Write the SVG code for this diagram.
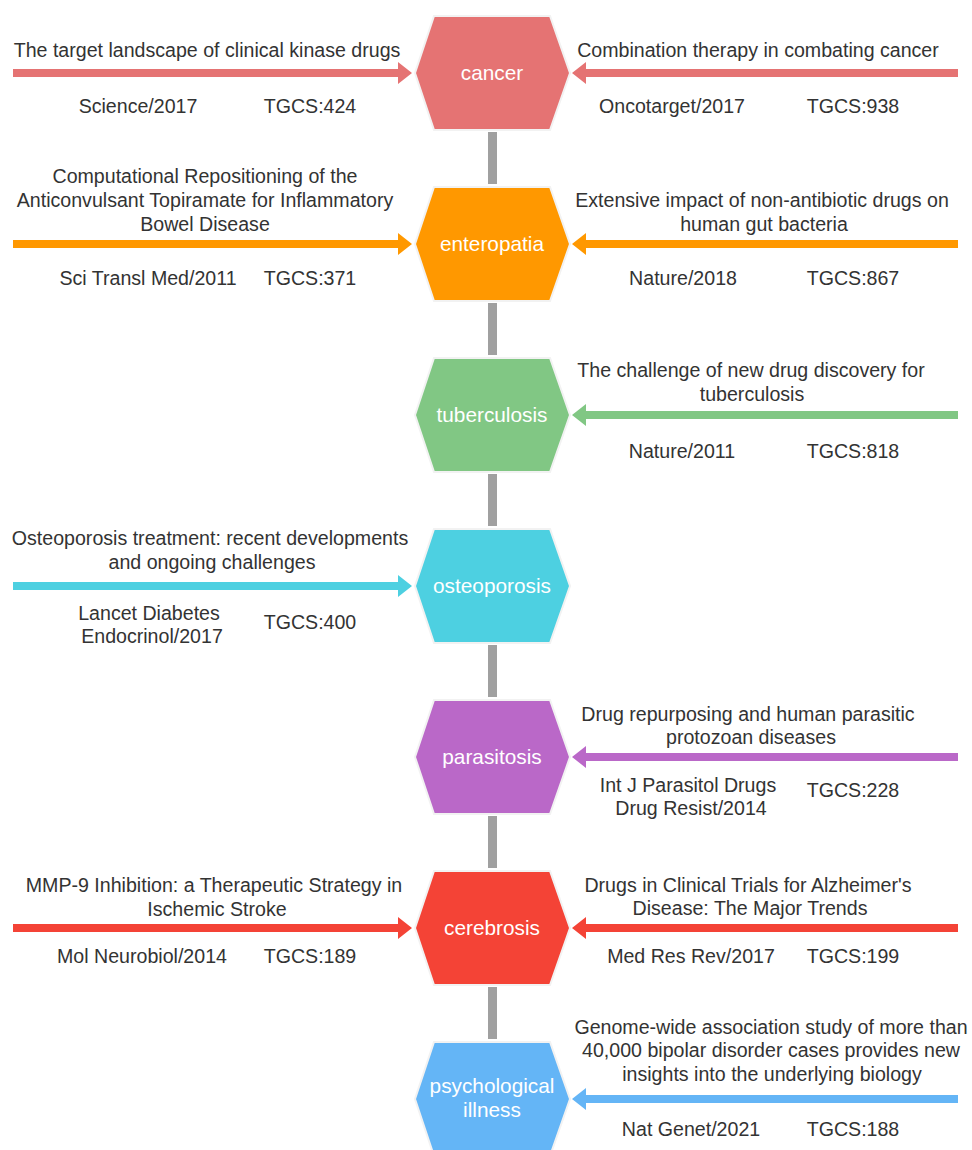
<svg xmlns="http://www.w3.org/2000/svg" width="972" height="1150" viewBox="0 0 972 1150">
<style>
.t{font-family:"Liberation Sans",Arial,sans-serif;font-size:19.6px;fill:#333;text-anchor:middle}
.h{font-family:"Liberation Sans",Arial,sans-serif;font-size:20.8px;fill:#fff;text-anchor:middle}
.hex{stroke:#f2f2f2;stroke-width:2}
.vc{fill:#a0a0a0}
</style>
<rect width="972" height="1150" fill="#fff"/>
<g id="connectors">
<rect class="vc" x="488" y="132" width="9" height="52"/>
<rect class="vc" x="488" y="303" width="9" height="52"/>
<rect class="vc" x="488" y="474" width="9" height="52"/>
<rect class="vc" x="488" y="645" width="9" height="52"/>
<rect class="vc" x="488" y="816" width="9" height="52"/>
<rect class="vc" x="488" y="987" width="9" height="52"/>
<path fill="#E57373" d="M13,69 H398 V62 L412,73 L398,84 V77 H13 Z"/>
<path fill="#E57373" d="M958,69 H586 V62 L572,73 L586,84 V77 H958 Z"/>
<path fill="#FF9800" d="M13,240 H398 V233 L412,244 L398,255 V248 H13 Z"/>
<path fill="#FF9800" d="M958,240 H586 V233 L572,244 L586,255 V248 H958 Z"/>
<path fill="#81C784" d="M958,411 H586 V404 L572,415 L586,426 V419 H958 Z"/>
<path fill="#4DD0E1" d="M13,582 H398 V575 L412,586 L398,597 V590 H13 Z"/>
<path fill="#BA68C8" d="M958,753 H586 V746 L572,757 L586,768 V761 H958 Z"/>
<path fill="#F44336" d="M13,924 H398 V917 L412,928 L398,939 V932 H13 Z"/>
<path fill="#F44336" d="M958,924 H586 V917 L572,928 L586,939 V932 H958 Z"/>
<path fill="#64B5F6" d="M958,1095 H586 V1088 L572,1099 L586,1110 V1103 H958 Z"/>
</g>
<g id="cancer">
<polygon class="hex" fill="#E57373" points="434,16 550,16 570,73 550,130 434,130 415,73"/>
<text class="h" x="492" y="80">cancer</text>
<text class="t" x="207" y="57">The target landscape of clinical kinase drugs</text>
<text class="t" x="138" y="113">Science/2017</text>
<text class="t" x="310" y="113">TGCS:424</text>
<text class="t" x="758" y="57">Combination therapy in combating cancer</text>
<text class="t" x="672" y="113">Oncotarget/2017</text>
<text class="t" x="853" y="113">TGCS:938</text>
</g>
<g id="enteropatia">
<polygon class="hex" fill="#FF9800" points="434,187 550,187 570,244 550,301 434,301 415,244"/>
<text class="h" x="492" y="251">enteropatia</text>
<text class="t" x="205" y="183">Computational Repositioning of the</text>
<text class="t" x="205" y="207">Anticonvulsant Topiramate for Inflammatory</text>
<text class="t" x="205" y="231">Bowel Disease</text>
<text class="t" x="148" y="285">Sci Transl Med/2011</text>
<text class="t" x="310" y="285">TGCS:371</text>
<text class="t" x="762" y="207">Extensive impact of non-antibiotic drugs on</text>
<text class="t" x="764" y="231">human gut bacteria</text>
<text class="t" x="683" y="285">Nature/2018</text>
<text class="t" x="853" y="285">TGCS:867</text>
</g>
<g id="tuberculosis">
<polygon class="hex" fill="#81C784" points="434,358 550,358 570,415 550,472 434,472 415,415"/>
<text class="h" x="492" y="422">tuberculosis</text>
<text class="t" x="751" y="377">The challenge of new drug discovery for</text>
<text class="t" x="752" y="401">tuberculosis</text>
<text class="t" x="682" y="458">Nature/2011</text>
<text class="t" x="853" y="458">TGCS:818</text>
</g>
<g id="osteoporosis">
<polygon class="hex" fill="#4DD0E1" points="434,529 550,529 570,586 550,643 434,643 415,586"/>
<text class="h" x="492" y="593">osteoporosis</text>
<text class="t" x="210" y="545">Osteoporosis treatment: recent developments</text>
<text class="t" x="212" y="569">and ongoing challenges</text>
<text class="t" x="149" y="620">Lancet Diabetes</text>
<text class="t" x="152" y="643">Endocrinol/2017</text>
<text class="t" x="310" y="629">TGCS:400</text>
</g>
<g id="parasitosis">
<polygon class="hex" fill="#BA68C8" points="434,700 550,700 570,757 550,814 434,814 415,757"/>
<text class="h" x="492" y="764">parasitosis</text>
<text class="t" x="748" y="721">Drug repurposing and human parasitic</text>
<text class="t" x="751" y="744">protozoan diseases</text>
<text class="t" x="688" y="792">Int J Parasitol Drugs</text>
<text class="t" x="691" y="815">Drug Resist/2014</text>
<text class="t" x="853" y="797">TGCS:228</text>
</g>
<g id="cerebrosis">
<polygon class="hex" fill="#F44336" points="434,871 550,871 570,928 550,985 434,985 415,928"/>
<text class="h" x="492" y="935">cerebrosis</text>
<text class="t" x="214" y="892">MMP-9 Inhibition: a Therapeutic Strategy in</text>
<text class="t" x="217" y="916">Ischemic Stroke</text>
<text class="t" x="142" y="963">Mol Neurobiol/2014</text>
<text class="t" x="310" y="963">TGCS:189</text>
<text class="t" x="748" y="892">Drugs in Clinical Trials for Alzheimer's</text>
<text class="t" x="750" y="915">Disease: The Major Trends</text>
<text class="t" x="691" y="963">Med Res Rev/2017</text>
<text class="t" x="853" y="963">TGCS:199</text>
</g>
<g id="psychological-illness">
<polygon class="hex" fill="#64B5F6" points="434,1042 550,1042 570,1099 550,1156 434,1156 415,1099"/>
<text class="h" x="492" y="1093">psychological</text>
<text class="h" x="492" y="1117">illness</text>
<text class="t" x="771" y="1034">Genome-wide association study of more than</text>
<text class="t" x="771" y="1057">40,000 bipolar disorder cases provides new</text>
<text class="t" x="772" y="1081">insights into the underlying biology</text>
<text class="t" x="691" y="1136">Nat Genet/2021</text>
<text class="t" x="853" y="1136">TGCS:188</text>
</g>
</svg>
